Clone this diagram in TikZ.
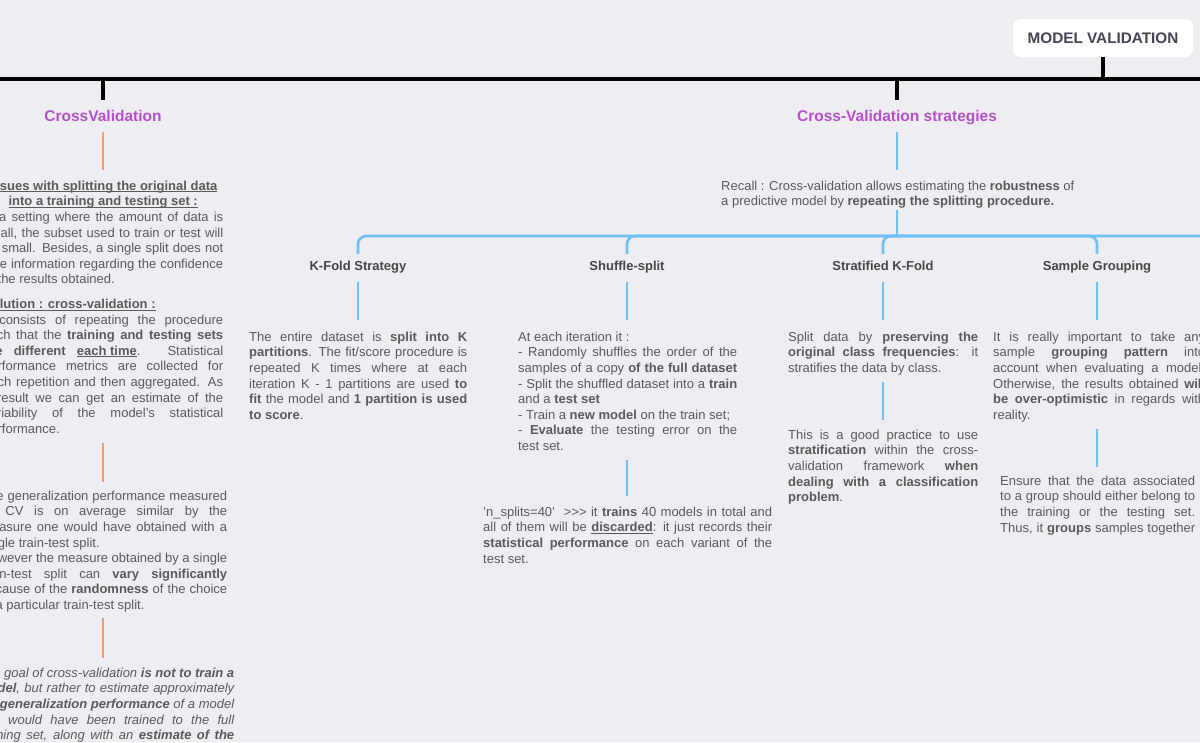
\documentclass[tikz,border=0pt]{standalone}
\usepackage{fontspec}
\setmainfont{Liberation Sans}
\definecolor{bg}{HTML}{EEEDF2}
\definecolor{txt}{HTML}{5A5A5A}
\definecolor{ttl}{HTML}{474747}
\definecolor{mvc}{HTML}{444455}
\definecolor{purp}{HTML}{B450CC}
\definecolor{bluel}{HTML}{6EC1F7}
\definecolor{orng}{HTML}{FF9A66}
\newcommand\lnstrut{\vrule width0pt height10pt depth3.5pt}
\newcommand\jline[1]{\hbox to\hsize{\lnstrut#1}}
\newcommand\lline[1]{\hbox to\hsize{\lnstrut#1\hfil}}
\newcommand\cenline[1]{\hbox to\hsize{\lnstrut\hfil#1\hfil}}
\newcommand\uln[1]{\setbox0\hbox{#1}\rlap{\rule[-2pt]{\wd0}{0.8pt}}\box0}
\newcommand\blk[2]{\vbox{\hsize=#1pt\baselineskip=15.6pt\lineskiplimit=-10pt #2}}
\tikzset{
  txtnode/.style={inner sep=0pt, anchor=north west, text=txt, font=\fontsize{13}{15.6}\selectfont},
  ttlnode/.style={inner ysep=0pt, inner xsep=0pt, text height=9.5pt, text depth=3.5pt, minimum height=26pt, text=ttl, font=\fontsize{13}{15.6}\selectfont\bfseries},
  purpnode/.style={inner sep=0pt, text height=11pt, text depth=0pt, minimum height=32pt, text=purp, font=\fontsize{15.5}{18}\selectfont\bfseries},
  mvbox/.style={fill=white, rounded corners=8pt, minimum width=180pt, minimum height=38pt, inner sep=0pt, text=mvc, font=\fontsize{15.3}{17}\selectfont\bfseries},
  blackline/.style={line width=4pt, black},
  blueline/.style={line width=2.6pt, bluel},
  orangeline/.style={line width=2.6pt, orng},
}
\begin{document}
\begin{tikzpicture}[x=1pt, y=-1pt]
\useasboundingbox (0,0) rectangle (1200,742);
\clip (0,0) rectangle (1200,742);
\fill[bg] (0,0) rectangle (1200,742);

% top level
\node[mvbox] (mv) at (1103,38) {MODEL VALIDATION};
\coordinate (trunk) at (1104,79);
\coordinate (offl) at (-10,79);
\coordinate (offr) at (1215,79);

\node[purpnode] (cv) at (103,116) {CrossValidation};
\node[purpnode] (cvs) at (897,116) {Cross-Validation strategies};

\draw[blackline] (offl) -- (offr);
\draw[blackline] (mv.south) -- (mv.south |- trunk);
\draw[blackline] (cv.north |- trunk) -- (cv.north);
\draw[blackline] (cvs.north |- trunk) -- (cvs.north);

% left column
\node[txtnode] (b1) at (-17,180) {\blk{240}{%
 \cenline{\textbf{\uln{Issues with splitting the original data}}}
 \cenline{\textbf{\uln{into a training and testing set :}}}
 \jline{In a setting where the amount of data is}
 \jline{small, the subset used to train or test will}
 \jline{be small. Besides, a single split does not}
 \jline{give information regarding the confidence}
 \lline{of the results obtained.}
 \vskip 9pt
 \lline{\textbf{\uln{Solution : cross-validation :}}}
 \jline{It consists of repeating the procedure}
 \jline{such that the \textbf{training and testing sets}}
 \jline{\textbf{are different \uln{each time}}. Statistical}
 \jline{performance metrics are collected for}
 \jline{each repetition and then aggregated. As}
 \jline{a result we can get an estimate of the}
 \jline{variability of the model's statistical}
 \lline{performance.}
}};

\node[txtnode] (b2) at (-19,490) {\blk{246}{%
 \jline{The generalization performance measured}
 \jline{by CV is on average similar by the}
 \jline{measure one would have obtained with a}
 \lline{single train-test split.}
 \jline{However the measure obtained by a single}
 \jline{train-test split can \textbf{vary significantly}}
 \jline{because of the \textbf{randomness} of the choice}
 \lline{of a particular train-test split.}
}};

\node[txtnode] (b3) at (-22,667) {\blk{256}{\itshape
 \jline{The goal of cross-validation \textbf{is not to train a}}
 \jline{\textbf{model}, but rather to estimate approximately}
 \jline{the \textbf{generalization performance} of a model}
 \jline{that would have been trained to the full}
 \jline{training set, along with an \textbf{estimate of the}}
}};

\draw[orangeline, shorten >=10pt] (cv.south) -- (cv.south |- b1.north);
\draw[orangeline, shorten <=6pt, shorten >=8pt] (b1.south -| cv.south) -- (b2.north -| cv.south);
\draw[orangeline, shorten <=5pt, shorten >=9pt] (b2.south -| cv.south) -- (b3.north -| cv.south);

% strategies
\node[txtnode] (recall) at (721,180) {\blk{353}{%
 \jline{Recall : Cross-validation allows estimating the \textbf{robustness} of}
 \lline{a predictive model by \textbf{repeating the splitting procedure.}}
}};
\coordinate (hub) at (897,236);
\coordinate (offb) at (1300,280);

\node[ttlnode] (kf) at (358,267) {K-Fold Strategy};
\node[ttlnode] (sh) at (627,267) {Shuffle-split};
\node[ttlnode] (st) at (883,267) {Stratified K-Fold};
\node[ttlnode] (sg) at (1097,267) {Sample Grouping};

\draw[blueline, shorten >=10pt] (cvs.south) -- (cvs.south |- recall.north);
\draw[blueline] (recall.south -| hub) -- (hub);
\foreach \c in {kf,sh,st,sg}{
  \draw[blueline, rounded corners=8pt] (hub) -| (\c.north);
}
\draw[blueline, rounded corners=8pt] (hub) -| (offb);

\node[txtnode] (kftxt) at (249,331) {\blk{218}{%
 \jline{The entire dataset is \textbf{split into K}}
 \jline{\textbf{partitions}. The fit/score procedure is}
 \jline{repeated K times where at each}
 \jline{iteration K - 1 partitions are used \textbf{to}}
 \jline{\textbf{fit} the model and \textbf{1 partition is used}}
 \lline{\textbf{to score}.}
}};

\node[txtnode] (shtxt) at (518,331) {\blk{219}{%
 \lline{At each iteration it :}
 \jline{- Randomly shuffles the order of the}
 \jline{samples of a copy \textbf{of the full dataset}}
 \jline{- Split the shuffled dataset into a \textbf{train}}
 \lline{and a \textbf{test set}}
 \lline{- Train a \textbf{new model} on the train set;}
 \jline{- \textbf{Evaluate} the testing error on the}
 \lline{test set.}
}};

\node[txtnode] (nstxt) at (483,506) {\blk{289}{%
 \jline{’n\_splits=40’~ {>}{>}{>} it \textbf{trains} 40 models in total and}
 \jline{all of them will be \textbf{\uln{discarded}}: it just records their}
 \jline{\textbf{statistical performance} on each variant of the}
 \lline{test set.}
}};

\node[txtnode] (sttxt) at (788,331) {\blk{190}{%
 \jline{Split data by \textbf{preserving the}}
 \jline{\textbf{original class frequencies}: it}
 \lline{stratifies the data by class.}
}};

\node[txtnode] (sttxt2) at (788,429) {\blk{190}{%
 \jline{This is a good practice to use}
 \jline{\textbf{stratification} within the cross-}
 \jline{validation framework \textbf{when}}
 \jline{\textbf{dealing with a classification}}
 \lline{\textbf{problem}.}
}};

\node[txtnode] (sgtxt) at (993,331) {\blk{212}{%
 \jline{It is really important to take any}
 \jline{sample \textbf{grouping pattern} into}
 \jline{account when evaluating a model.}
 \jline{Otherwise, the results obtained \textbf{will}}
 \jline{\textbf{be over-optimistic} in regards with}
 \lline{reality.}
}};

\node[txtnode] (entxt) at (1000,475) {\blk{195}{%
 \jline{Ensure that the data associated}
 \jline{to a group should either belong to}
 \jline{the training or the testing set.}
 \jline{Thus, it \textbf{groups} samples together}
}};

\foreach \t/\x in {kf/kftxt, sh/shtxt, st/sttxt, sg/sgtxt}{
  \draw[blueline, shorten <=2pt, shorten >=11pt] (\t.south) -- (\t.south |- \x.north);
}
\draw[blueline, shorten <=6pt, shorten >=10pt] (shtxt.south -| sh.south) -- (nstxt.north -| sh.south);
\draw[blueline, shorten <=6pt, shorten >=9pt] (sttxt.south -| st.south) -- (sttxt2.north -| st.south);
\draw[blueline, shorten <=6pt, shorten >=8pt] (sgtxt.south -| sg.south) -- (entxt.north -| sg.south);
\end{tikzpicture}
\end{document}
